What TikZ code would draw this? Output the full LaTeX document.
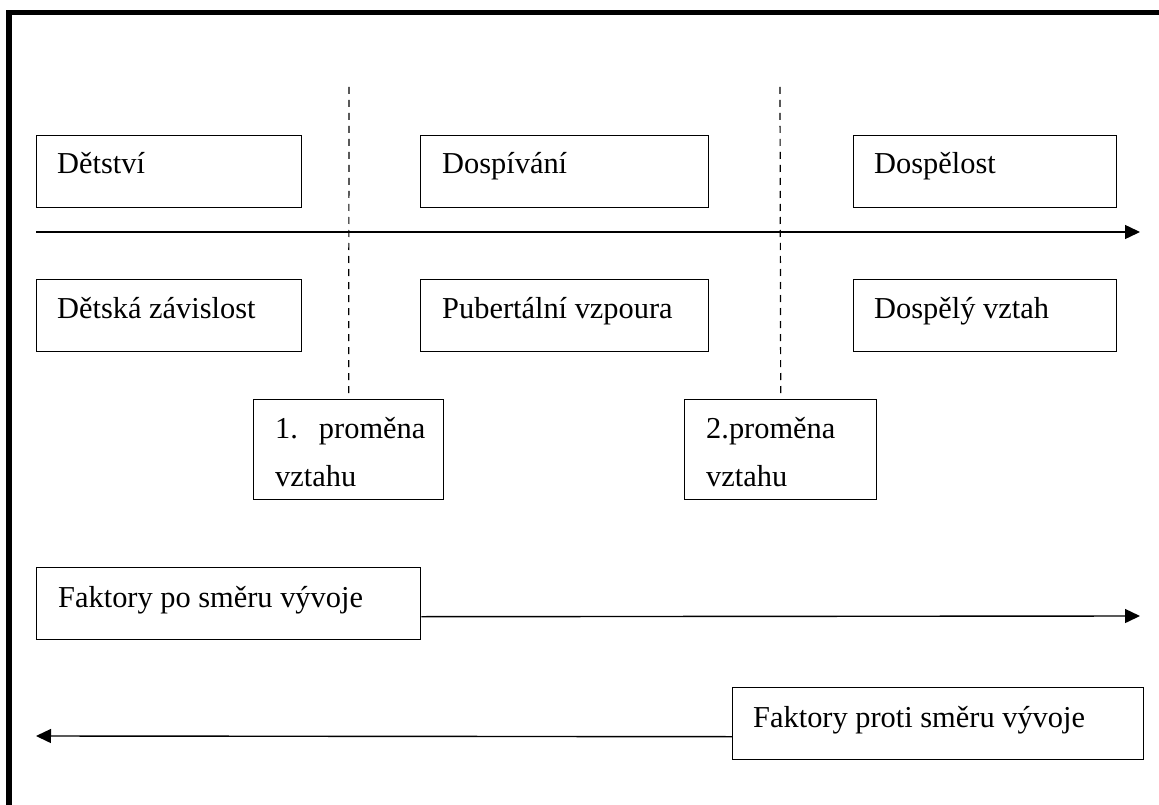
\documentclass[tikz,border=0pt]{standalone}
\usepackage{fontspec}
\setmainfont{Liberation Serif}
\usetikzlibrary{arrows.meta}
\tikzset{
  x=1pt, y=-1pt,
  box/.style={draw, line width=1.4pt, rectangle, anchor=north west, inner sep=0pt, minimum height=72pt},
  lbl/.style={anchor=base west, inner sep=0pt, font=\fontsize{30.4}{36}\selectfont},
  arr/.style={line width=1.4pt, -{Triangle[length=15pt,width=14pt]}},
  sep/.style={line width=1.2pt, dash pattern=on 7pt off 6pt}
}
\begin{document}
\begin{tikzpicture}
\useasboundingbox (0,0) rectangle (1159,805);
% frame (left and top only)
\draw[line width=5.5pt, line join=miter] (9,805) -- (9,12.5) -- (1159,12.5);

% top row
\node[box, minimum width=265pt] (b1) at (36,135) {};
\node[box, minimum width=288pt] (b2) at (420,135) {};
\node[box, minimum width=263pt] (b3) at (853,135) {};
\node[lbl] (tb1) at (57,174) {Dětství};
\node[lbl] (tb2) at (442,174) {Dospívání};
\node[lbl] (tb3) at (874,174) {Dospělost};

% main axis
\coordinate (a0) at (36,232);
\coordinate (a1) at (1140,232);
\draw[arr] (a0) -- (a1);

% second row
\node[box, minimum width=265pt] (c1) at (36,279) {};
\node[box, minimum width=288pt] (c2) at (420,279) {};
\node[box, minimum width=263pt] (c3) at (853,279) {};
\node[lbl] (tc1) at (57,318) {Dětská závislost};
\node[lbl] (tc2) at (442,318) {Pubertální vzpoura};
\node[lbl] (tc3) at (874,318) {Dospělý vztah};

% transformation boxes
\node[box, minimum width=190pt, minimum height=100pt] (p1) at (253,399) {};
\node[box, minimum width=192pt, minimum height=100pt] (p2) at (684,399) {};
\node[lbl] (tp1a) at (275,438) {1.\hspace{21pt}proměna};
\node[lbl] (tp1b) at (275,486) {vztahu};
\node[lbl] (tp2a) at (706,438) {2.proměna};
\node[lbl] (tp2b) at (706,486) {vztahu};

% dashed separators
\coordinate (d1) at (349,87);
\coordinate (d2) at (780,87);
\draw[sep] (d1) -- (p1.north);
\draw[sep] (d2) -- (p2.north);

% factors
\node[box, minimum width=384pt] (f1) at (36,567) {};
\node[lbl] (tf1) at (58,607) {Faktory po směru vývoje};
\coordinate (e1) at (1140,616);
\draw[arr] ([yshift=-13pt]f1.east) -- (e1);

\node[box, minimum width=411pt] (f2) at (732,687) {};
\node[lbl] (tf2) at (753,727) {Faktory proti směru vývoje};
\coordinate (e2) at (36,736);
\draw[arr] ([yshift=-13pt]f2.west) -- (e2);
\end{tikzpicture}
\end{document}
